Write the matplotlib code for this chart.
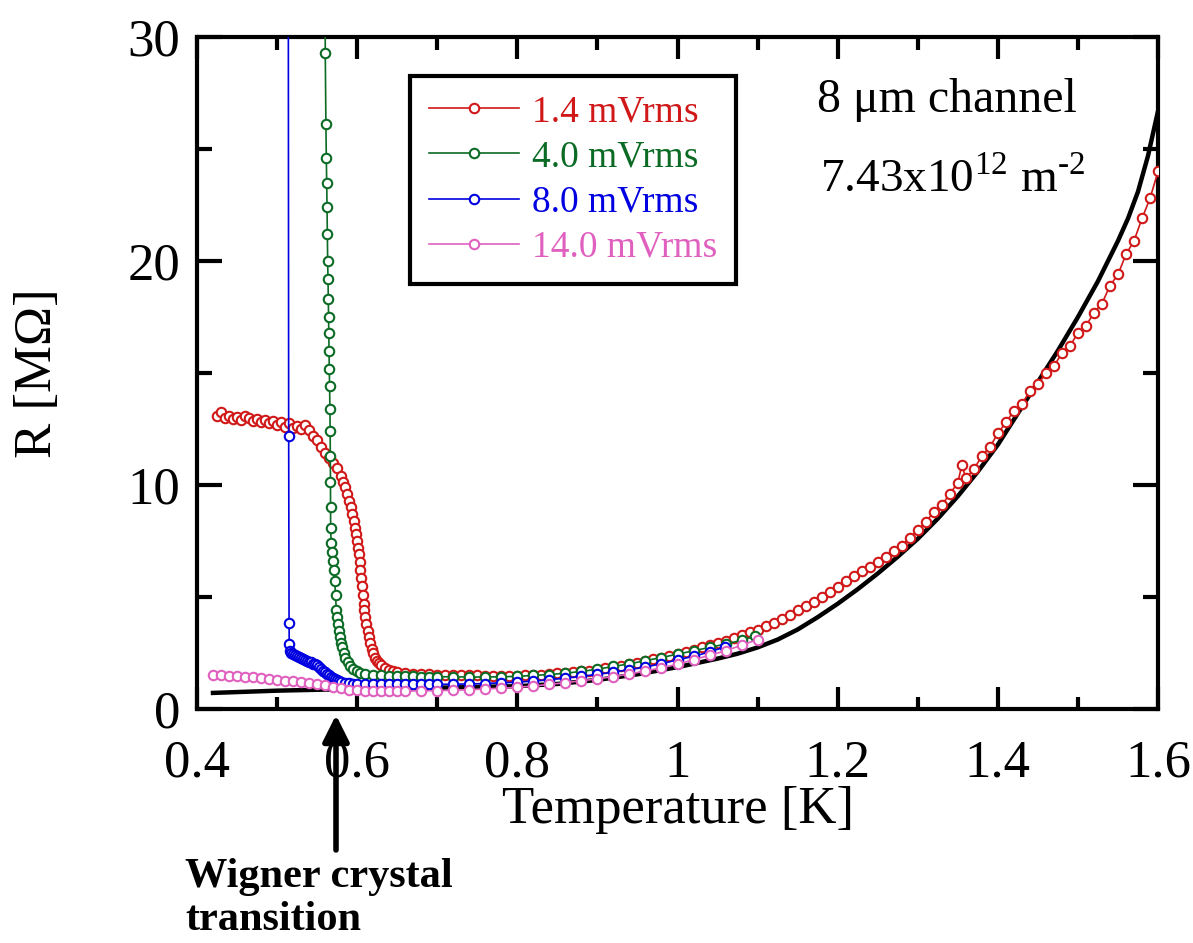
import numpy as np
import matplotlib
matplotlib.use("Agg")
import matplotlib.pyplot as plt
from matplotlib.ticker import MultipleLocator, FuncFormatter

plt.rcParams['font.family'] = ['Liberation Serif', 'DejaVu Serif']
plt.rcParams['mathtext.fontset'] = 'custom'
plt.rcParams['mathtext.rm'] = 'Liberation Serif'

# ---- data ----
t_red = [0.425, 0.43, 0.435, 0.44, 0.445, 0.45, 0.455, 0.46, 0.465, 0.47, 0.475, 0.48,
         0.485, 0.49, 0.495, 0.50, 0.505, 0.51, 0.515, 0.52, 0.525, 0.53, 0.535, 0.54,
         0.545, 0.55, 0.555, 0.56, 0.565, 0.57, 0.575, 0.58, 0.5825, 0.585, 0.5875,
         0.59, 0.592, 0.594, 0.5955, 0.597, 0.5985, 0.600, 0.601, 0.602, 0.603, 0.604,
         0.605, 0.606, 0.607, 0.608, 0.609, 0.610, 0.6115, 0.613, 0.6145, 0.616,
         0.618, 0.620, 0.6225, 0.625, 0.6275, 0.630, 0.635,
         0.64, 0.645, 0.65, 0.66, 0.67, 0.68, 0.69, 0.70, 0.71, 0.72, 0.73, 0.74, 0.75,
         0.76, 0.77, 0.78, 0.79, 0.80, 0.81, 0.82, 0.83, 0.84, 0.85, 0.86, 0.87, 0.88,
         0.89, 0.90, 0.91, 0.92, 0.93, 0.94, 0.95, 0.96, 0.97, 0.98, 0.99, 1.00, 1.01,
         1.02, 1.03, 1.04, 1.05, 1.06, 1.07, 1.08, 1.09, 1.10, 1.11, 1.12, 1.13, 1.14,
         1.15, 1.16, 1.17, 1.18, 1.19, 1.20, 1.21, 1.22, 1.23, 1.24, 1.25, 1.26, 1.27,
         1.28, 1.29, 1.30, 1.31, 1.32, 1.33, 1.34, 1.35, 1.355, 1.36, 1.37, 1.38, 1.39,
         1.40, 1.41, 1.42, 1.43, 1.44, 1.45, 1.46, 1.47, 1.48, 1.49, 1.50, 1.51, 1.52,
         1.53, 1.54, 1.55, 1.56, 1.57, 1.58, 1.59, 1.60]
r_red = [13.1, 13.25, 13.0, 13.1, 12.95, 13.05, 12.9, 13.1, 13.0, 12.85, 12.95, 12.8,
         12.9, 12.75, 12.85, 12.7, 12.8, 12.6, 12.75, 12.55, 12.65, 12.5, 12.7, 12.45,
         12.2, 12.0, 11.7, 11.45, 11.2, 11.0, 10.75, 10.4, 10.15, 9.9, 9.6,
         9.3, 9.0, 8.7, 8.4, 8.1, 7.8, 7.5, 7.2, 6.9, 6.55, 6.2,
         5.85, 5.5, 5.1, 4.7, 4.4, 4.1, 3.8, 3.5, 3.2, 2.95,
         2.7, 2.5, 2.3, 2.15, 2.05, 1.95, 1.85,
         1.75, 1.7, 1.66, 1.6, 1.57, 1.56, 1.55, 1.54, 1.53, 1.52, 1.51, 1.5, 1.5,
         1.49, 1.49, 1.48, 1.48, 1.48, 1.5, 1.52, 1.54, 1.56, 1.59, 1.62, 1.65, 1.68,
         1.72, 1.76, 1.82, 1.88, 1.94, 2.0, 2.07, 2.15, 2.22, 2.3, 2.37, 2.45, 2.55,
         2.65, 2.75, 2.85, 2.95, 3.05, 3.17, 3.3, 3.42, 3.55, 3.7, 3.85, 4.02, 4.2,
         4.4, 4.6, 4.8, 5.0, 5.22, 5.45, 5.7, 5.95, 6.15, 6.35, 6.55, 6.8, 7.05,
         7.3, 7.65, 8.0, 8.35, 8.8, 9.1, 9.6, 10.1, 10.9, 10.3, 10.7, 11.3, 11.7,
         12.3, 12.8, 13.3, 13.6, 14.2, 14.5, 15.0, 15.3, 15.9, 16.2, 16.8, 17.1, 17.7,
         18.1, 18.9, 19.4, 20.3, 20.9, 21.9, 22.8, 24.0]

t_green = [0.5598, 0.5602, 0.5610, 0.5615, 0.5620, 0.5624, 0.5628, 0.5632, 0.5636,
           0.5640, 0.5643, 0.5646, 0.5649, 0.5652, 0.5656, 0.5660, 0.5663, 0.5665,
           0.5667, 0.5668, 0.5669, 0.5675, 0.5685, 0.570, 0.571, 0.572, 0.573, 0.574,
           0.575, 0.576, 0.577, 0.578, 0.5795, 0.581, 0.583, 0.585, 0.588, 0.591,
           0.595, 0.600, 0.604, 0.61, 0.62, 0.63, 0.64, 0.65, 0.66, 0.67, 0.68, 0.69,
           0.70, 0.72, 0.74, 0.76, 0.78, 0.80, 0.82, 0.84, 0.86, 0.88, 0.90, 0.92,
           0.94, 0.96, 0.98, 1.00, 1.02, 1.04, 1.06, 1.08, 1.097]
r_green = [33.0, 29.3, 26.1, 24.6, 23.5, 22.4, 21.2, 20.0, 19.2,
           18.3, 17.5, 16.8, 16.0, 15.2, 14.4, 13.4, 12.4, 11.3,
           10.15, 9.0, 8.1, 7.4, 7.0, 6.6, 6.2, 5.7, 5.1, 4.4,
           4.1, 3.8, 3.5, 3.2, 2.95, 2.75, 2.5, 2.3, 2.1, 1.93,
           1.8, 1.7, 1.63, 1.58, 1.54, 1.51, 1.49, 1.48, 1.47, 1.46, 1.45, 1.45,
           1.44, 1.44, 1.43, 1.43, 1.44, 1.46, 1.5, 1.54, 1.6, 1.68, 1.78, 1.9,
           2.02, 2.16, 2.3, 2.45, 2.6, 2.75, 2.9, 3.07, 3.25]

t_blue = [0.5140, 0.5145, 0.5150, 0.5152, 0.516, 0.518, 0.520, 0.5225, 0.525, 0.5275,
          0.530, 0.5325, 0.535, 0.5375, 0.540, 0.5425, 0.545, 0.5475, 0.550, 0.5525,
          0.555, 0.5575, 0.560, 0.5625, 0.565, 0.5675, 0.570, 0.5725, 0.575, 0.5775,
          0.580, 0.585, 0.590, 0.595, 0.60, 0.61, 0.62, 0.63, 0.64, 0.65, 0.66, 0.67,
          0.68, 0.69, 0.70, 0.72, 0.74, 0.76, 0.78, 0.80, 0.82, 0.84, 0.86, 0.88, 0.90,
          0.92, 0.94, 0.96, 0.98, 1.00, 1.02, 1.04, 1.059]
r_blue = [35.0, 12.2, 3.82, 2.89, 2.6, 2.5, 2.45, 2.42, 2.38, 2.34,
          2.3, 2.25, 2.2, 2.16, 2.12, 2.08, 2.03, 1.99, 1.95, 1.88,
          1.8, 1.72, 1.65, 1.57, 1.5, 1.45, 1.4, 1.35, 1.3, 1.26,
          1.22, 1.18, 1.16, 1.14, 1.12, 1.11, 1.1, 1.1, 1.1, 1.1, 1.1, 1.1,
          1.1, 1.1, 1.1, 1.11, 1.12, 1.14, 1.17, 1.2, 1.25, 1.31, 1.38, 1.46, 1.55,
          1.65, 1.76, 1.88, 2.02, 2.2, 2.35, 2.55, 2.77]

t_pink = [0.42, 0.43, 0.44, 0.45, 0.46, 0.47, 0.48, 0.49, 0.50, 0.51, 0.52, 0.53,
          0.54, 0.55, 0.56, 0.57, 0.58, 0.59, 0.60, 0.61, 0.62, 0.63, 0.64, 0.65,
          0.66, 0.68, 0.70, 0.72, 0.74, 0.76, 0.78, 0.80, 0.82, 0.84, 0.86, 0.88,
          0.90, 0.92, 0.94, 0.96, 0.98, 1.00, 1.02, 1.04, 1.06, 1.08, 1.10]
r_pink = [1.52, 1.5, 1.48, 1.46, 1.44, 1.41, 1.38, 1.34, 1.3, 1.27, 1.24, 1.2,
          1.16, 1.11, 1.06, 0.99, 0.92, 0.87, 0.84, 0.82, 0.8, 0.8, 0.8, 0.8,
          0.8, 0.81, 0.82, 0.84, 0.86, 0.9, 0.93, 0.97, 1.03, 1.1, 1.18, 1.26,
          1.35, 1.45, 1.56, 1.7, 1.84, 2.0, 2.2, 2.4, 2.6, 2.85, 3.1]

t_fit = [0.42, 0.50, 0.60, 0.70, 0.80, 0.85, 0.90, 0.95, 1.00, 1.05, 1.075, 1.10,
         1.125, 1.15, 1.175, 1.20, 1.225, 1.25, 1.275, 1.30, 1.325, 1.35, 1.375,
         1.40, 1.425, 1.45, 1.475, 1.50, 1.525, 1.55, 1.5625, 1.575, 1.5875, 1.60]
r_fit = [0.72, 0.82, 0.9, 0.95, 1.02, 1.12, 1.3, 1.55, 1.87, 2.25, 2.47, 2.75,
         3.1, 3.55, 4.1, 4.7, 5.35, 6.05, 6.8, 7.6, 8.5, 9.5, 10.6,
         11.8, 13.2, 14.6, 16.0, 17.5, 19.1, 20.9, 21.9, 23.1, 24.7, 26.7]

labels = ['1.4 mVrms', '4.0 mVrms', '8.0 mVrms', '14.0 mVrms']
colors = ['#d01818', '#0b6b25', '#0000e0', '#e060c0']

fig = plt.figure(figsize=(11.93, 9.43), dpi=100)
ax = fig.add_axes([0.1651, 0.2481, 0.8056, 0.7127])

ax.plot(t_fit, r_fit, color='black', lw=3.2, zorder=2)

series = [(t_red, r_red), (t_green, r_green), (t_blue, r_blue), (t_pink, r_pink)]
for (t, r), c, lab in zip(series, colors, labels):
    ax.plot(t, r, '-o', color=c, lw=1.2, ms=6.8, mfc='white', mec=c, mew=1.5,
            label=lab, zorder=3)

ax.set_xlim(0.4, 1.6)
ax.set_ylim(0, 30)
ax.xaxis.set_major_locator(MultipleLocator(0.2))
ax.xaxis.set_minor_locator(MultipleLocator(0.1))
ax.yaxis.set_major_locator(MultipleLocator(10))
ax.yaxis.set_minor_locator(MultipleLocator(5))
ax.xaxis.set_major_formatter(FuncFormatter(lambda v, p: '%g' % round(v, 2)))
ax.yaxis.set_major_formatter(FuncFormatter(lambda v, p: '%g' % v))

for s in ax.spines.values():
    s.set_linewidth(3)
ax.tick_params(which='both', direction='in', top=True, right=True, width=3,
               labelsize=38)
ax.tick_params(axis='x', which='major', length=16, pad=22)
ax.tick_params(axis='x', which='minor', length=9)
ax.tick_params(axis='y', which='major', length=18, pad=12)
ax.tick_params(axis='y', which='minor', length=11)

ax.set_xlabel('Temperature [K]', fontsize=38)
ax.set_ylabel('R [M\u03a9]', fontsize=38)
ax.xaxis.set_label_coords(0.5, -0.115)
ax.yaxis.set_label_coords(-0.14, 0.5)

leg = ax.legend(loc='upper left', bbox_to_anchor=(0.3437, 0.9194),
                bbox_transform=fig.transFigure, borderaxespad=0, fontsize=27,
                numpoints=1, handlelength=2.4, handletextpad=0.35,
                labelspacing=0.285, borderpad=0.5, fancybox=False,
                edgecolor='black', framealpha=1)
leg.get_frame().set_linewidth(3)
for txt, c in zip(leg.get_texts(), colors):
    txt.set_color(c)

fig.text(817 / 1193, 1 - 112 / 943, '8 \u03bcm channel', fontsize=34.5,
         va='baseline', ha='left')
fig.text(820 / 1193, 1 - 192 / 943, r'7.43x10$^{12}$ m$^{\text{-2}}$', fontsize=34,
         va='baseline', ha='left')

ax.annotate('', xy=(336 / 1193, 1 - 715 / 943), xycoords='figure fraction',
            xytext=(336 / 1193, 1 - 850 / 943), textcoords='figure fraction',
            arrowprops=dict(arrowstyle='-|>', lw=4, color='black',
                            mutation_scale=40, shrinkA=0, shrinkB=0))
fig.text(185 / 1193, 1 - 887 / 943, 'Wigner crystal', fontsize=30.5,
         fontweight='bold', va='baseline', ha='left')
fig.text(185 / 1193, 1 - 930 / 943, 'transition', fontsize=30.5,
         fontweight='bold', va='baseline', ha='left')

fig.savefig('out.png', dpi=100)
